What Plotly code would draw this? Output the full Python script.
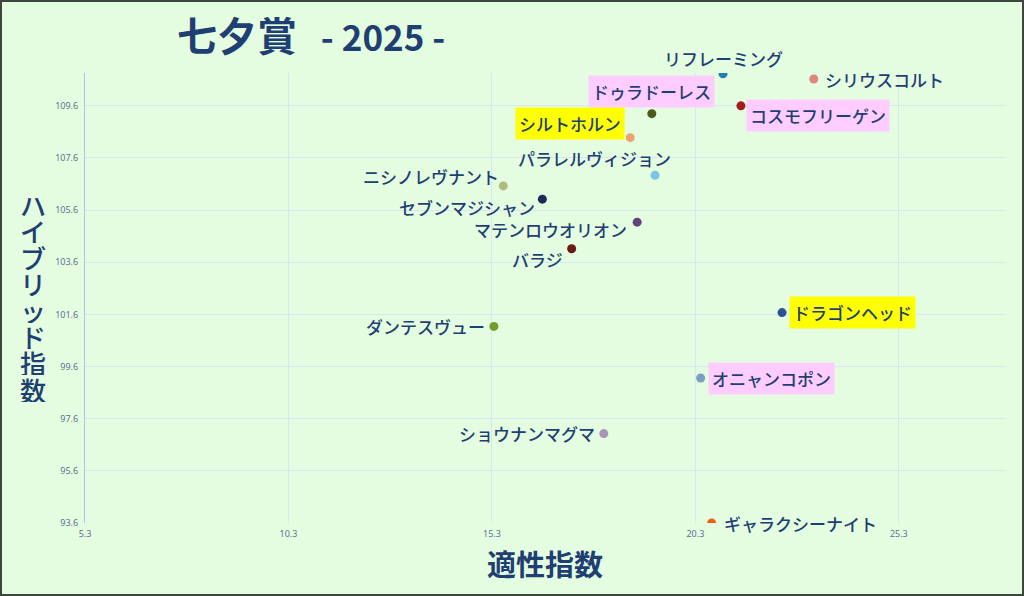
import plotly.graph_objects as go

# 馬名と指数
horses = ["リフレーミング", "シリウスコルト", "ドゥラドーレス", "コスモフリーゲン",
          "シルトホルン", "パラレルヴィジョン", "ニシノレヴナント", "セブンマジシャン",
          "マテンロウオリオン", "バラジ", "ダンテスヴュー", "ドラゴンヘッド",
          "オニャンコポン", "ショウナンマグマ", "ギャラクシーナイト"]
tekisei = [20.98, 23.21, 19.23, 21.42, 18.70, 19.31, 15.58, 16.54,
           18.87, 17.26, 15.35, 22.43, 20.43, 18.05, 20.70]
hybrid = [110.83, 110.63, 109.30, 109.60, 108.38, 106.94, 106.53, 106.02,
          105.14, 104.12, 101.14, 101.67, 99.16, 97.03, 93.60]
highlight = ["", "", "pink", "pink", "yellow", "", "", "",
             "", "", "", "yellow", "pink", "", ""]

x_ticks = [5.3, 10.3, 15.3, 20.3, 25.3]
y_ticks = [93.6, 95.6, 97.6, 99.6, 101.6, 103.6, 105.6, 107.6, 109.6]

colors = ["#1f80b4", "#e0877c", "#4b5a1c", "#a31c1c", "#eba572", "#7fc3e4",
          "#aebb7c", "#1b2b5b", "#61417f", "#6e1717", "#6e9e2c", "#2b5391",
          "#7d9ec4", "#a993b9", "#e8650f"]

# ラベル位置 (xanchor, xshift, yshift)
label_pos = [("center", 0, 15), ("left", 7, 0),
             ("center", 0, 22), ("left", 5, -10),
             ("right", -5, 14), ("right", 20, 17),
             ("right", 0, 9), ("right", -3, -8),
             ("right", -6, -7), ("right", -5, -11),
             ("right", -5, 0), ("left", 7, 0),
             ("left", 7, 0), ("right", -5, 0),
             ("left", 8, 0)]
bg_map = {"pink": "#ffccff", "yellow": "#ffff00", "": "rgba(0,0,0,0)"}

navy = "#1f3f73"
fig = go.Figure()
fig.add_trace(go.Scatter(x=tekisei, y=hybrid, mode="markers",
                         marker=dict(size=9, color=colors), hoverinfo="text",
                         text=horses, showlegend=False))

annotations = []
for i, name in enumerate(horses):
    xa, xs, ys = label_pos[i]
    annotations.append(dict(x=tekisei[i], y=hybrid[i], text=name, showarrow=False,
                            xanchor=xa, yanchor="middle", xshift=xs, yshift=ys,
                            bgcolor=bg_map[highlight[i]], borderpad=3,
                            font=dict(family="Noto Sans CJK JP", size=17, color=navy, weight=500)))

# 縦書きの軸タイトル
ytitle = "ハイブリッド指数"
for i, ch in enumerate(ytitle):
    py = 204 + 26.4 * i
    annotations.append(dict(xref="paper", yref="paper", x=(33 - 85) / 920,
                            y=(523 - py) / 450, text=ch, showarrow=False,
                            xanchor="center", yanchor="middle", height=26, borderpad=0,
                            font=dict(family="Noto Sans CJK JP", size=26, color=navy, weight=500)))

annotations.append(dict(xref="paper", yref="paper", x=0.5, y=(523 - 563) / 450,
                        text="適性指数", showarrow=False, xanchor="center", yanchor="middle",
                        font=dict(family="Noto Sans CJK JP", size=29, color=navy, weight="bold")))

annotations.append(dict(xref="paper", yref="paper", x=(175 - 85) / 920, y=(523 - 34) / 450,
                        text="<span style='font-size:40px'>七夕賞</span>&nbsp;&nbsp;&nbsp;- 2025 -",
                        showarrow=False, xanchor="left", yanchor="middle",
                        font=dict(family="Noto Sans CJK JP", size=35, color=navy, weight="bold")))

fig.update_layout(
    width=1024, height=596,
    margin=dict(l=85, r=19, t=73, b=73),
    paper_bgcolor="#e4fde0", plot_bgcolor="#e4fde0",
    annotations=annotations,
    shapes=[dict(type="rect", xref="paper", yref="paper",
                 x0=-84 / 920, x1=1 + 18 / 920, y0=-72 / 450, y1=1 + 72 / 450,
                 line=dict(color="#3f4540", width=2))],
)
fig.update_xaxes(range=[5.3, 27.91], tickvals=x_ticks, ticktext=[str(v) for v in x_ticks],
                 showgrid=True, gridcolor="#d9e6f2", gridwidth=1, zeroline=False,
                 showline=False, ticks="", ticklabelstandoff=4,
                 tickfont=dict(family="Noto Sans", size=9, color="#5f7090"))
fig.update_yaxes(range=[93.6, 110.86], tickvals=y_ticks, ticktext=[str(v) for v in y_ticks],
                 showgrid=True, gridcolor="#d9e6f2", gridwidth=1, zeroline=False,
                 showline=True, linecolor="#a9c2f2", linewidth=1, ticks="", ticklabelstandoff=4,
                 tickfont=dict(family="Noto Sans", size=9, color="#5f7090"))

fig.write_html("out.html", config={"displayModeBar": False},
               post_script="document.body.style.margin='0';")
